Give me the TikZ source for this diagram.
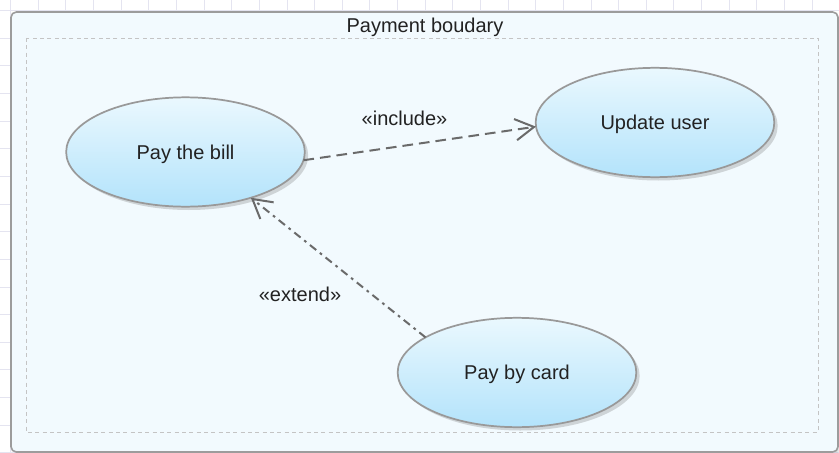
\documentclass[tikz,border=0pt]{standalone}
\usepackage{fontspec}
\setmainfont{Liberation Sans}
\usetikzlibrary{arrows.meta,shadows,shapes.geometric}
\definecolor{gridline}{HTML}{E4E4F0}
\definecolor{sysfill}{HTML}{F2FAFE}
\definecolor{sysedge}{HTML}{9C9C9C}
\definecolor{innerdash}{HTML}{C4C4C4}
\definecolor{uctop}{HTML}{EAF8FE}
\definecolor{ucbottom}{HTML}{B3E3FB}
\definecolor{ucedge}{HTML}{999999}
\definecolor{linkgray}{HTML}{6A6A6A}
\definecolor{inktext}{HTML}{222222}
\tikzset{
  usecase/.style={ellipse, draw=ucedge, line width=1.3pt,
    top color=uctop, bottom color=ucbottom,
    minimum width=179pt, minimum height=82pt, inner sep=0pt, outer sep=0pt,
    text height=10.5pt, text depth=0pt,
    text=inktext, font=\fontsize{15}{18}\selectfont,
    drop shadow={shadow xshift=2.5pt, shadow yshift=-2.5pt, opacity=0.25, fill=black!60}},
  openhead/.tip={Straight Barb[length=14pt, width=16pt, line width=1.5pt]},
  includelink/.style={draw=linkgray, line width=1.5pt, dash pattern=on 8pt off 4.5pt, -openhead},
  extendlink/.style={draw=linkgray, line width=1.5pt, dash pattern=on 6pt off 3.5pt on 2pt off 3.5pt, -openhead},
  stereo/.style={text=inktext, font=\fontsize{15}{18}\selectfont, inner sep=0pt, anchor=base}
}
\begin{document}
\begin{tikzpicture}[x=0.75pt, y=-0.75pt]
  \useasboundingbox (0,0) rectangle (839,453);
  \fill[white] (0,0) rectangle (839,453);
  % editor grid behind the system box
  \foreach \k in {0,...,30} {
    \draw[gridline, line width=0.6pt] ({10.5+27.64*\k},0) -- ({10.5+27.64*\k},453);
    \draw[gridline, line width=0.6pt] (0,{10.5+27.64*\k}) -- (839,{10.5+27.64*\k});
  }
  % system boundary
  \draw[draw=sysedge, fill=sysfill, line width=1.2pt, rounded corners=4pt,
        drop shadow={shadow xshift=1.5pt, shadow yshift=-1.5pt, opacity=0.2}]
        (11,12) rectangle (838,452);
  \draw[innerdash, line width=0.7pt, dash pattern=on 3pt off 2.5pt] (26,38) rectangle (818,432);
  \node[stereo] (title) at (425,32.5) {Payment boudary};

  % use cases
  \node[usecase] (bill) at (185.5,152) {Pay the bill};
  \node[usecase] (update) at (655,122.5) {Update user};
  \node[usecase] (card) at (517,372.5) {Pay by card};

  % relationships
  \draw[includelink] (bill.-4) -- (update.-178.3);
  \draw[extendlink] (card.159.5) -- (bill.-35.5);
  \node[stereo] (inc) at (404.5,126) {«include»};
  \node[stereo] (ext) at (300,301.5) {«extend»};
\end{tikzpicture}
\end{document}
